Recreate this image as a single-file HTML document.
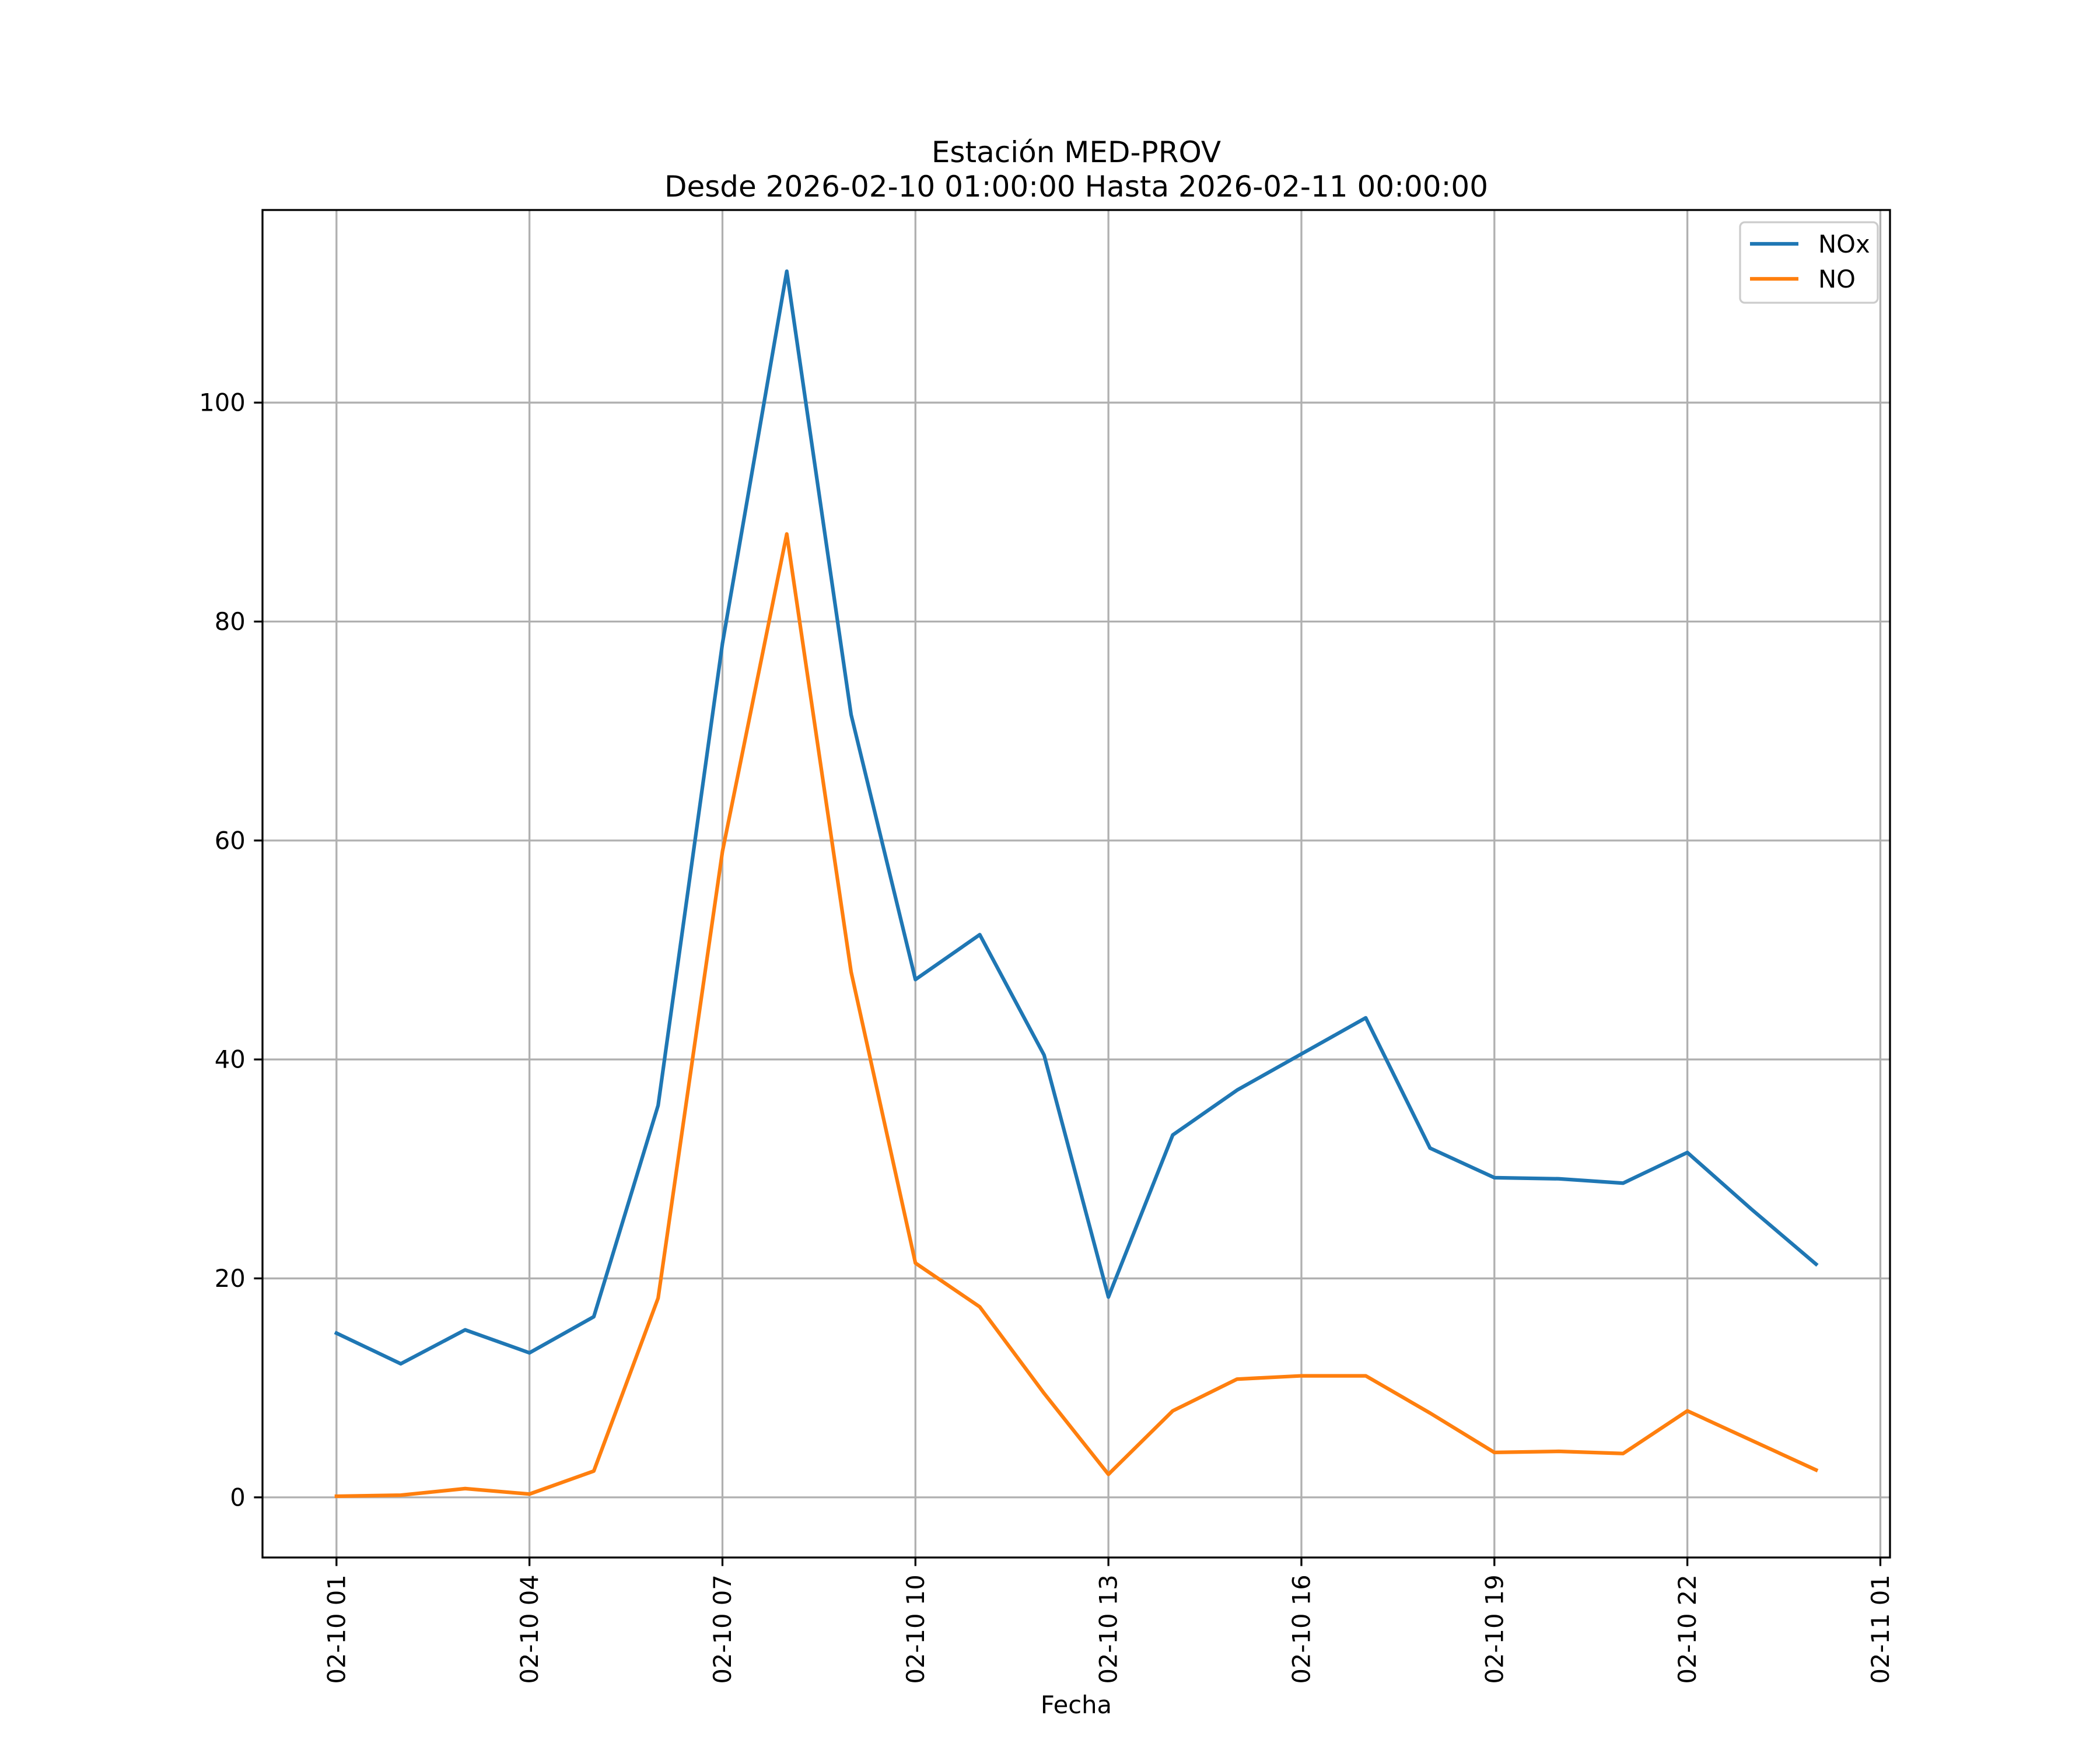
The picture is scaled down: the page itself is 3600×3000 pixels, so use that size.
<!DOCTYPE html>
<html><head><meta charset="utf-8"><style>
html,body{margin:0;padding:0;background:#fff}
svg{display:block;font-family:"DejaVu Sans","Liberation Sans",sans-serif}
</style></head><body>
<svg id="chart" xmlns="http://www.w3.org/2000/svg" width="3600" height="3000" viewBox="0 0 3600 3000">
<rect width="3600" height="3000" fill="#fff"/>
<g id="grid"></g>
<g id="series"></g>
<rect x="450" y="360" width="2790" height="2310" fill="none" stroke="#000" stroke-width="3.3"/>
<g id="ticks"></g>
<text x="1845" y="278" font-size="50" text-anchor="middle">Estación MED-PROV</text>
<text x="1845" y="337" font-size="50" text-anchor="middle">Desde 2026-02-10 01:00:00 Hasta 2026-02-11 00:00:00</text>
<text x="1845" y="2937" font-size="41.7" text-anchor="middle">Fecha</text>
<g>
<rect x="2983" y="381" width="236" height="138" rx="8" fill="#fff" fill-opacity="0.8" stroke="#ccc" stroke-width="3.3"/>
<g>
<line x1="3000" y1="418" x2="3083" y2="418" stroke="#1f77b4" stroke-width="6.25"/>
<text x="3117" y="433" font-size="41.7">NOx</text></g>
<g>
<line x1="3000" y1="478" x2="3083" y2="478" stroke="#ff7f0e" stroke-width="6.25"/>
<text x="3117" y="493" font-size="41.7">NO</text></g>
</g>
</svg>
<script>
const hours = [1,2,3,4,5,6,7,8,9,10,11,12,13,14,15,16,17,18,19,20,21,22,23,24];
const noxValues = [15.0,12.2,15.3,13.2,16.5,35.8,78,112,71.5,47.3,51.4,40.4,18.3,33.1,37.2,40.5,43.8,31.9,29.2,29.1,28.7,31.5,26.3,21.3];
const noValues = [0.1,0.2,0.8,0.3,2.4,18.2,59,88,48,21.4,17.4,9.5,2.1,7.9,10.8,11.1,11.1,7.7,4.1,4.2,4.0,7.9,5.2,2.5];
const xTickHours = [1,4,7,10,13,16,19,22,25];
const xTickLabels = ["02-10 01","02-10 04","02-10 07","02-10 10","02-10 13","02-10 16","02-10 19","02-10 22","02-11 01"];
const yTicks = [0,20,40,60,80,100];

const NS="http://www.w3.org/2000/svg";
const L=450,R=3240,T=360,B=2670;
const xmin=Math.min(...hours),xmax=Math.max(...hours),xm=(xmax-xmin)*0.05;
const all=noxValues.concat(noValues);
const ymin0=Math.min(...all),ymax0=Math.max(...all),ym=(ymax0-ymin0)*0.05;
const X=h=>L+(h-(xmin-xm))/((xmax+xm)-(xmin-xm))*(R-L);
const Y=v=>B-(v-(ymin0-ym))/((ymax0+ym)-(ymin0-ym))*(B-T);
function mk(tag,attrs,parent){const e=document.createElementNS(NS,tag);for(const k in attrs)e.setAttribute(k,attrs[k]);parent.appendChild(e);return e;}
const grid=document.getElementById('grid'),ticks=document.getElementById('ticks'),series=document.getElementById('series');
xTickHours.forEach((h,i)=>{
  const x=X(h);
  const g=mk('line',{x1:x,x2:x,y1:T,y2:B,stroke:'#b0b0b0','stroke-width':3.3},grid);
  
  
  const t=mk('line',{x1:x,x2:x,y1:B,y2:B+14.6,stroke:'#000','stroke-width':3.3},ticks);
  
  
  const lb=mk('text',{x:0,y:0,'font-size':41.7,'text-anchor':'end','dominant-baseline':'central',transform:`translate(${x},${B+29.2}) rotate(-90)`},ticks);
  lb.textContent=xTickLabels[i];
  
  
});
yTicks.forEach(v=>{
  const y=Y(v);
  const g=mk('line',{x1:L,x2:R,y1:y,y2:y,stroke:'#b0b0b0','stroke-width':3.3},grid);
  
  
  const t=mk('line',{x1:L-14.6,x2:L,y1:y,y2:y,stroke:'#000','stroke-width':3.3},ticks);
  
  
  const lb=mk('text',{x:L-29.2,y:y,'font-size':41.7,'text-anchor':'end','dominant-baseline':'central'},ticks);
  lb.textContent=String(v);
  
  
});
function drawLine(vals,color,name){
  const p=mk('polyline',{points:vals.map((v,i)=>X(hours[i])+','+Y(v)).join(' '),fill:'none',stroke:color,'stroke-width':6.25,'stroke-linejoin':'round','stroke-linecap':'square'},series);
  
  
}
drawLine(noxValues,'#1f77b4','nox-line');
drawLine(noValues,'#ff7f0e','no-line');
</script>
</body></html>
